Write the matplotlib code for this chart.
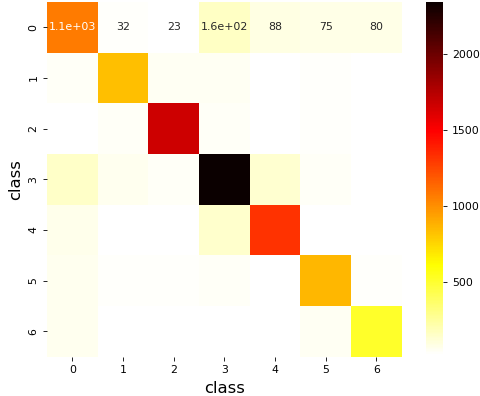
import numpy as np
import matplotlib
matplotlib.use("Agg")
import matplotlib.pyplot as plt
import seaborn as sns

labels = ["0", "1", "2", "3", "4", "5", "6"]

row0 = [1070, 32, 23, 160, 88, 75, 80]
row1 = [40, 830, 50, 55, 22, 30, 20]
row2 = [25, 45, 1670, 45, 20, 30, 20]
row3 = [150, 60, 45, 2343, 130, 45, 25]
row4 = [70, 25, 20, 145, 1320, 25, 20]
row5 = [65, 35, 30, 45, 22, 860, 35]
row6 = [65, 20, 20, 25, 20, 50, 515]

cm = np.array([row0, row1, row2, row3, row4, row5, row6])

# only the first row carries numbers in the original
annot = np.full(cm.shape, "", dtype=object)
annot[0] = [format(v, ".2g") for v in row0]

fig = plt.figure(figsize=(4.81, 3.96), dpi=100)
ax = fig.add_axes([0.0977, 0.0992, 0.7375, 0.896])
cax = fig.add_axes([0.8857, 0.1035, 0.036, 0.8915])

sns.heatmap(cm, annot=annot, fmt="", cmap="hot_r", ax=ax, cbar_ax=cax,
            xticklabels=labels, yticklabels=labels,
            annot_kws={"fontsize": 7.9})

ax.set_xlabel("class", fontsize=11.8)
ax.set_ylabel("class", fontsize=11.8)
ax.tick_params(labelsize=7.8, length=2.7, width=0.6)
cax.tick_params(labelsize=7.8, length=2.7, width=0.6)
cax.set_yticks([500, 1000, 1500, 2000])

fig.savefig("out.png", dpi=100)
